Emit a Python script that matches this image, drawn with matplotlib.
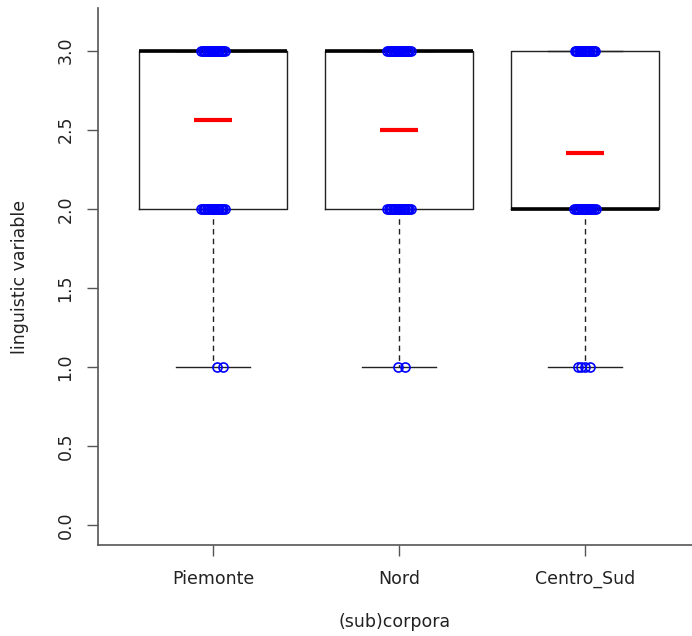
import matplotlib.pyplot as plt

groups = ['Piemonte', 'Nord', 'Centro_Sud']
q1 = [2.0, 2.0, 2.0]
medians = [3.0, 3.0, 2.0]
q3 = [3.0, 3.0, 3.0]
whislo = [1.0, 1.0, 1.0]
whishi = [3.0, 3.0, 3.0]
means = [2.56, 2.50, 2.35]

# jittered observations: x offsets from the group centre, per value
jitter_hi = [
    [-0.062, -0.055, -0.048, -0.041, -0.034, -0.027, -0.02, -0.013, -0.006, 0.0, 0.006,
     0.013, 0.02, 0.027, 0.034, 0.041, 0.048, 0.055, 0.062],
    [-0.062, -0.055, -0.048, -0.041, -0.034, -0.027, -0.02, -0.013, -0.006, 0.0, 0.006,
     0.013, 0.02, 0.027, 0.034, 0.041, 0.048, 0.055, 0.062],
    [-0.056, -0.049, -0.042, -0.035, -0.028, -0.021, -0.014, -0.007, 0.0, 0.007,
     0.014, 0.021, 0.028, 0.035, 0.042, 0.049, 0.056],
]
jitter_mid = [
    [-0.062, -0.055, -0.048, -0.041, -0.034, -0.027, -0.02, -0.013, -0.006, 0.0, 0.006,
     0.013, 0.02, 0.027, 0.034, 0.041, 0.048, 0.055, 0.062],
    [-0.062, -0.055, -0.048, -0.041, -0.034, -0.027, -0.02, -0.013, -0.006, 0.0, 0.006,
     0.013, 0.02, 0.027, 0.034, 0.041, 0.048, 0.055, 0.062],
    [-0.058, -0.051, -0.044, -0.037, -0.03, -0.023, -0.016, -0.009, -0.002, 0.005,
     0.012, 0.019, 0.026, 0.033, 0.04, 0.047, 0.058],
]
jitter_low = [
    [0.02, 0.052],
    [-0.005, 0.03],
    [-0.04, -0.02, 0.0, 0.025],
]

fig = plt.figure(figsize=(6.92, 6.36), dpi=100)
ax = fig.add_axes([98 / 692, 1 - 545 / 636, 1 - 98 / 692, 537 / 636])

stats = []
for i in range(3):
    stats.append({'q1': q1[i], 'med': medians[i], 'q3': q3[i],
                  'whislo': whislo[i], 'whishi': whishi[i], 'fliers': []})

ax.bxp(stats, positions=[1, 2, 3], widths=0.8, capwidths=0.4, showfliers=False,
       boxprops=dict(color='#222222', lw=1),
       medianprops=dict(color='black', lw=2.6, solid_capstyle='butt'),
       whiskerprops=dict(color='#222222', lw=1, linestyle=(0, (4, 3))),
       capprops=dict(color='#222222', lw=1))

for i in range(3):
    pos = i + 1
    for val, offs in [(3.0, jitter_hi[i]), (2.0, jitter_mid[i]), (1.0, jitter_low[i])]:
        ax.plot([pos + o for o in offs], [val] * len(offs), 'o', ms=6.5,
                mfc='none', mec='blue', mew=1.2, zorder=5)
    ax.hlines(means[i], pos - 0.102, pos + 0.102, color='red', lw=3, zorder=6)

ax.set_xlim(0.382, 3.575)
ax.set_ylim(-0.127, 3.27)
ax.set_xticks([1, 2, 3])
ax.set_xticklabels(groups)
ax.set_yticks([0, 0.5, 1.0, 1.5, 2.0, 2.5, 3.0])
ax.set_yticklabels(['0.0', '0.5', '1.0', '1.5', '2.0', '2.5', '3.0'],
                   rotation=90, va='center')

for s in ['top', 'right']:
    ax.spines[s].set_visible(False)
for s in ['left', 'bottom']:
    ax.spines[s].set_color('#555555')
    ax.spines[s].set_linewidth(1.2)

ax.tick_params(axis='both', colors='#555555', length=8, width=1,
               labelcolor='#222222', labelsize=12.5)
ax.tick_params(axis='x', pad=10)
ax.tick_params(axis='y', pad=9)

ax.set_xlabel('(sub)corpora', fontsize=12.5, color='#222222', labelpad=18)
ax.set_ylabel('linguistic variable', fontsize=12.5, color='#222222', labelpad=20)

fig.savefig('out.png', dpi=100)
